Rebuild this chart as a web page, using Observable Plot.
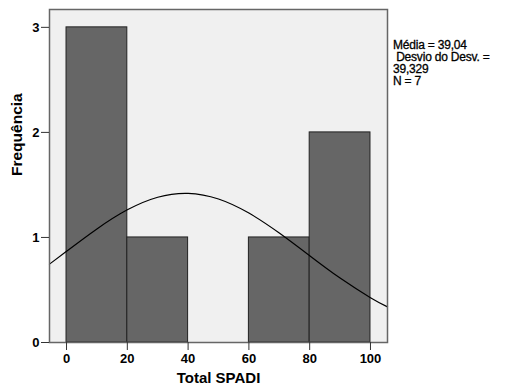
<!DOCTYPE html>
<html><head><meta charset="utf-8">
<script src="https://cdn.jsdelivr.net/npm/d3@7"></script>
<script src="https://cdn.jsdelivr.net/npm/@observablehq/plot@0.6"></script>
<style>
body{margin:0;background:#fff;font-family:"Liberation Sans",Arial,sans-serif;}
#wrap{position:relative;width:514px;height:391px;}
#legend{position:absolute;left:393px;top:39px;font-size:12px;line-height:12px;color:#000;white-space:pre;-webkit-text-stroke:0.3px #000;letter-spacing:-0.2px;}
</style>
</head><body>
<div id="wrap"><div id="legend"></div></div>
<script>
const binStart = [0, 20, 40, 60, 80];
const binEnd = [20, 40, 60, 80, 100];
const counts = [3, 1, 0, 1, 2];
const curveX = [-5.6, 0, 10, 20, 30, 40, 50, 60, 70, 80, 90, 100, 105.6];
const curveY = [0.746, 0.868, 1.081, 1.263, 1.383, 1.420, 1.366, 1.232, 1.042, 0.826, 0.613, 0.427, 0.339];
const xTicks = [0, 20, 40, 60, 80, 100];
const yTicks = [0, 1, 2, 3];
const legendLines = ["Média = 39,04", " Desvio do Desv. =", "39,329", "N = 7"];

const bars = binStart.map((s, i) => ({x1: s, x2: binEnd[i], y: counts[i]})).filter(d => d.y > 0);
const curve = curveX.map((x, i) => ({x, y: curveY[i]}));

const chart = Plot.plot({
  width: 514, height: 391,
  marginLeft: 49, marginRight: 127, marginTop: 9, marginBottom: 49,
  style: {fontFamily: "'Liberation Sans', Arial, sans-serif", fontSize: "12px", color: "#000", background: "#fff"},
  x: {domain: [-5.6, 105.6], ticks: xTicks, label: null},
  y: {domain: [0, 3.17], ticks: yTicks, label: null},
  marks: [
    Plot.frame({fill: "#f0f0f0", stroke: null}),
    Plot.rectY(bars, {x1: "x1", x2: "x2", y: "y", fill: "#666666", stroke: "#222", strokeWidth: 1, inset: 0}),
    Plot.line(curve, {x: "x", y: "y", stroke: "#000", strokeWidth: 1.2, curve: "natural"}),
    Plot.frame({stroke: "#666", strokeWidth: 1.5}),
    Plot.axisY({ticks: yTicks, tickSize: 8, tickPadding: 2, tickFormat: d => d, fontWeight: "bold", fontSize: 13, label: null, stroke: "#333"}),
    Plot.axisX({ticks: xTicks, tickSize: 8, tickPadding: 3, tickFormat: d => d, fontWeight: "bold", fontSize: 13, label: null, stroke: "#333"}),
    Plot.text(["Total SPADI"], {frameAnchor: "bottom", dy: 40, fontWeight: "bold", fontSize: 15}),
    Plot.text(["Frequência"], {frameAnchor: "left", dx: -32, rotate: -90, fontWeight: "bold", fontSize: 15.5})
  ]
});
document.getElementById("wrap").prepend(chart);
document.getElementById("legend").textContent = legendLines.join("\n");
</script>
</body></html>
